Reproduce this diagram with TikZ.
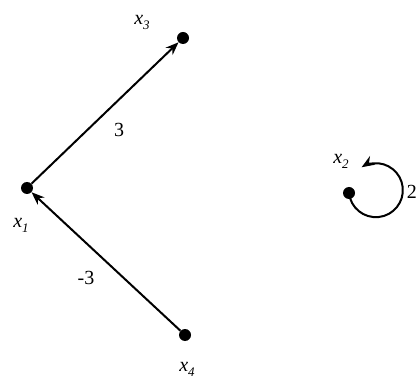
\documentclass[tikz,border=0pt]{standalone}
\usepackage{fontspec}
\setmainfont{Liberation Serif}
\usetikzlibrary{arrows.meta}
\newcommand{\xv}[1]{\textit{x}\raisebox{-5pt}{\fontsize{13}{13}\selectfont\textit{#1}}}
\begin{document}
\begin{tikzpicture}[x=1pt,y=1pt,
  vtx/.style={circle,fill=black,inner sep=0pt,minimum size=12pt},
  lbl/.style={font=\fontsize{20}{20}\selectfont,inner sep=1pt},
  edge/.style={line width=2pt,-{Stealth[length=13pt,width=10pt]}}]
\useasboundingbox (0,0) rectangle (417,380);
\node[vtx] (x1) at (27,192) {};
\node[vtx] (x3) at (183,342) {};
\node[vtx] (x4) at (185,45) {};
\node[vtx] (x2) at (349,187) {};
\node[lbl] (l1) at (21,155) {\xv{1}};
\node[lbl] (l3) at (142,358) {\xv{3}};
\node[lbl] (l4) at (187,11) {\xv{4}};
\node[lbl] (l2) at (341,219) {\xv{2}};
\node[lbl] (w13) at (119,250) {3};
\node[lbl] (w41) at (86,102) {-3};
\node[lbl,anchor=east,inner sep=0pt] (w2) at (417,188) {2};
\draw[edge] (x1) -- (x3);
\draw[edge] (x4) -- (x1);
\draw[edge] (x2.center) arc[start angle=186, end angle=482, radius=27];
\end{tikzpicture}
\end{document}
